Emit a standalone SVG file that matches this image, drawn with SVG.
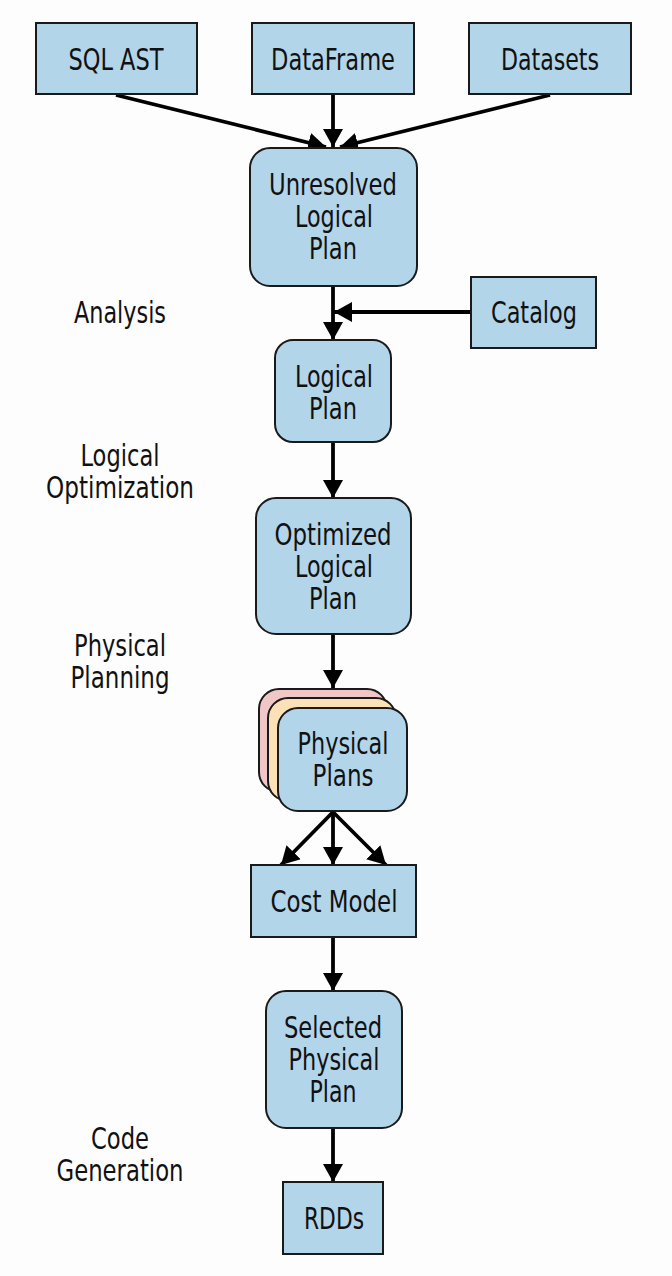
<svg xmlns="http://www.w3.org/2000/svg" width="672" height="1276" viewBox="0 0 672 1276">
<style>
.box{fill:#b3d5ea;stroke:#1a1a1a;stroke-width:2}
.t{font-family:"DejaVu Sans Condensed","Liberation Sans Narrow","Liberation Sans",sans-serif;font-size:31px;fill:#111;text-anchor:middle}
.c{stroke:#000;stroke-width:3.8;fill:none;marker-end:url(#ah)}
</style>
<defs>
<marker id="ah" markerUnits="userSpaceOnUse" viewBox="0 0 18 20" markerWidth="18" markerHeight="20" refX="18" refY="10" orient="auto">
<path d="M0,0 L18,10 L0,20 z" fill="#000"/>
</marker>
</defs>
<rect width="672" height="1276" fill="#fdfdfd"/>
<g id="connectors">
<line class="c" x1="116" y1="95" x2="326" y2="147"/>
<line class="c" x1="333" y1="95" x2="333" y2="147"/>
<line class="c" x1="550" y1="95" x2="340" y2="147"/>
<line class="c" x1="333" y1="286" x2="333" y2="340"/>
<line class="c" x1="471" y1="312" x2="334" y2="312"/>
<line class="c" x1="333" y1="442" x2="333" y2="498"/>
<line class="c" x1="333" y1="634" x2="333" y2="688"/>
<line class="c" x1="333" y1="812" x2="281" y2="865"/>
<line class="c" x1="333" y1="812" x2="333" y2="865"/>
<line class="c" x1="333" y1="812" x2="386" y2="865"/>
<line class="c" x1="333" y1="937" x2="333" y2="991"/>
<line class="c" x1="333" y1="1128" x2="333" y2="1182"/>
</g>
<g id="sql-ast"><rect class="box" x="36" y="23" width="161" height="71"/><text class="t" x="116" y="70" textLength="95" lengthAdjust="spacingAndGlyphs">SQL AST</text></g>
<g id="dataframe"><rect class="box" x="252" y="23" width="162" height="71"/><text class="t" x="333" y="70" textLength="124" lengthAdjust="spacingAndGlyphs">DataFrame</text></g>
<g id="datasets"><rect class="box" x="469" y="23" width="162" height="71"/><text class="t" x="550" y="70" textLength="98" lengthAdjust="spacingAndGlyphs">Datasets</text></g>
<g id="unresolved"><rect class="box" x="250" y="148" width="167" height="138" rx="20"/><text class="t" x="333" y="195" textLength="128" lengthAdjust="spacingAndGlyphs">Unresolved</text><text class="t" x="334" y="227" textLength="78" lengthAdjust="spacingAndGlyphs">Logical</text><text class="t" x="333" y="259" textLength="48" lengthAdjust="spacingAndGlyphs">Plan</text></g>
<g id="catalog"><rect class="box" x="471" y="277" width="125" height="71"/><text class="t" x="534" y="323" textLength="86" lengthAdjust="spacingAndGlyphs">Catalog</text></g>
<g id="analysis"><text class="t" x="120" y="323" textLength="92" lengthAdjust="spacingAndGlyphs">Analysis</text></g>
<g id="logical-plan"><rect class="box" x="275" y="340" width="116" height="102" rx="18"/><text class="t" x="334" y="387" textLength="78" lengthAdjust="spacingAndGlyphs">Logical</text><text class="t" x="333" y="419" textLength="48" lengthAdjust="spacingAndGlyphs">Plan</text></g>
<g id="logical-optimization"><text class="t" x="120" y="466" textLength="79" lengthAdjust="spacingAndGlyphs">Logical</text><text class="t" x="120" y="498" textLength="148" lengthAdjust="spacingAndGlyphs">Optimization</text></g>
<g id="optimized"><rect class="box" x="256" y="498" width="155" height="136" rx="20"/><text class="t" x="333" y="545" textLength="117" lengthAdjust="spacingAndGlyphs">Optimized</text><text class="t" x="334" y="577" textLength="78" lengthAdjust="spacingAndGlyphs">Logical</text><text class="t" x="333" y="609" textLength="48" lengthAdjust="spacingAndGlyphs">Plan</text></g>
<g id="physical-planning"><text class="t" x="120" y="656" textLength="92" lengthAdjust="spacingAndGlyphs">Physical</text><text class="t" x="120" y="688" textLength="99" lengthAdjust="spacingAndGlyphs">Planning</text></g>
<g id="physical-plans">
<rect x="259" y="689" width="128" height="103" rx="20" fill="#f1c6c6" stroke="#1a1a1a" stroke-width="2"/>
<rect x="268" y="698" width="128" height="103" rx="20" fill="#fde1b6" stroke="#1a1a1a" stroke-width="2"/>
<rect class="box" x="278" y="708" width="129" height="103" rx="20"/>
<text class="t" x="343" y="754" textLength="91" lengthAdjust="spacingAndGlyphs">Physical</text><text class="t" x="343" y="786" textLength="61" lengthAdjust="spacingAndGlyphs">Plans</text></g>
<g id="cost-model"><rect class="box" x="251" y="865" width="165" height="72"/><text class="t" x="334" y="912" textLength="127" lengthAdjust="spacingAndGlyphs">Cost Model</text></g>
<g id="selected"><rect class="box" x="266" y="991" width="136" height="137" rx="20"/><text class="t" x="333" y="1038" textLength="98" lengthAdjust="spacingAndGlyphs">Selected</text><text class="t" x="334" y="1070" textLength="91" lengthAdjust="spacingAndGlyphs">Physical</text><text class="t" x="333" y="1102" textLength="47" lengthAdjust="spacingAndGlyphs">Plan</text></g>
<g id="code-generation"><text class="t" x="120" y="1149" textLength="58" lengthAdjust="spacingAndGlyphs">Code</text><text class="t" x="120" y="1181" textLength="127" lengthAdjust="spacingAndGlyphs">Generation</text></g>
<g id="rdds"><rect class="box" x="283" y="1182" width="100" height="72"/><text class="t" x="334" y="1229" textLength="60" lengthAdjust="spacingAndGlyphs">RDDs</text></g>
</svg>
